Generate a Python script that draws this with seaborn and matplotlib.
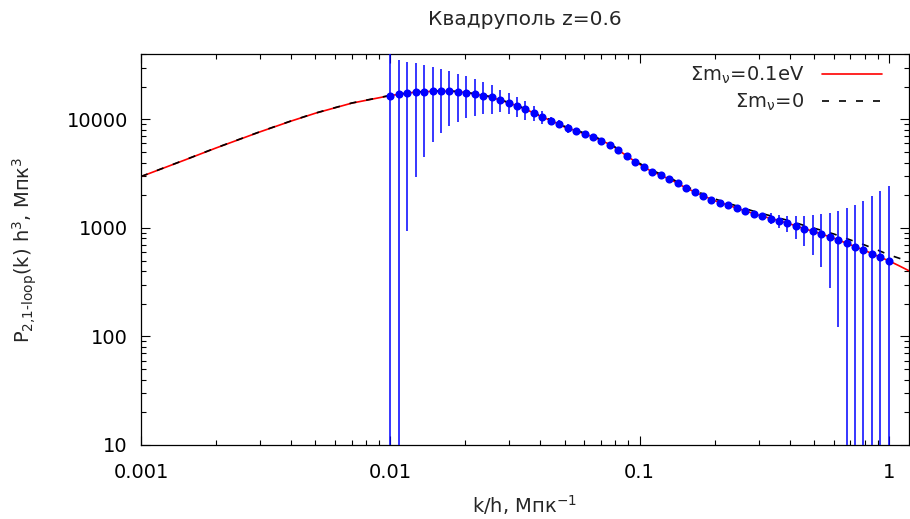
import numpy as np
import matplotlib
matplotlib.use("Agg")
import matplotlib.pyplot as plt
import seaborn as sns
from matplotlib.ticker import FixedLocator, FixedFormatter, LogLocator, NullFormatter

# ---------------- data ----------------
title_text = "Квадруполь z=0.6"
xlabel_text = "k/h, Мпк$^{-1}$"
ylabel_text = "P$_{2{,}1‐loop}$(k) h$^{3}$, Мпк$^{3}$"
legend_labels = ["Σm$_{ν}$=0.1eV", "Σm$_{ν}$=0"]

x_ticks = [0.001, 0.01, 0.1, 1]
x_tick_labels = ["0.001", "0.01", "0.1", "1"]
y_ticks = [10, 100, 1000, 10000]
y_tick_labels = ["10", "100", "1000", "10000"]

# theory curves
k_curve = [0.001, 0.0015, 0.002, 0.003, 0.004, 0.005, 0.007, 0.01, 0.0125, 0.015,
           0.0175, 0.02, 0.025, 0.03, 0.035, 0.04, 0.045, 0.05, 0.055, 0.06,
           0.065, 0.07, 0.075, 0.08, 0.09, 0.1, 0.11, 0.12, 0.135, 0.15,
           0.17, 0.2, 0.23, 0.26, 0.3, 0.35, 0.4, 0.45, 0.5, 0.6,
           0.7, 0.8, 0.9, 1.0, 1.1, 1.2]
p_mnu01 = [2970, 4225, 5450, 7670, 9645, 11380, 14100, 16575, 17780, 18150,
           18150, 17700, 16150, 14150, 12360, 10700, 9550, 8500, 7900, 7360,
           6900, 6400, 5950, 5450, 4500, 3850, 3380, 3090, 2740, 2400,
           2090, 1780, 1600, 1455, 1310, 1190, 1090, 995, 925, 805,
           700, 620, 550, 497, 447, 404]
p_mnu0 = [2975, 4235, 5465, 7690, 9670, 11410, 14140, 16630, 17850, 18230,
          18240, 17800, 16260, 14270, 12480, 10820, 9670, 8620, 8020, 7480,
          7020, 6520, 6070, 5530, 4580, 3930, 3460, 3170, 2820, 2480,
          2165, 1850, 1670, 1525, 1380, 1260, 1160, 1065, 995, 880,
          775, 695, 625, 565, 525, 490]

# measured points
k_points = [0.01000, 0.01081, 0.01169, 0.01264, 0.01366, 0.01477, 0.01597, 0.01726, 0.01866, 0.02018,
            0.02181, 0.02358, 0.02550, 0.02757, 0.02980, 0.03224, 0.03483, 0.03766, 0.04072, 0.04402,
            0.04759, 0.05145, 0.05562, 0.06014, 0.06502, 0.07029, 0.07599, 0.08216, 0.08882, 0.09603,
            0.10398, 0.11242, 0.12153, 0.13139, 0.14205, 0.15357, 0.16602, 0.17950, 0.19406, 0.20980,
            0.22682, 0.24521, 0.26510, 0.28661, 0.30986, 0.33499, 0.36216, 0.39154, 0.42330, 0.45764,
            0.49476, 0.53489, 0.57828, 0.62519, 0.67590, 0.73073, 0.79000, 0.85408, 0.92336, 1.00000]
p_points = [16575, 17075, 17440, 17815, 17930, 18200, 18200, 18200, 17930, 17660,
            17180, 16575, 16020, 15220, 14220, 13320, 12415, 11480, 10480, 9750,
            9090, 8295, 7834, 7352, 6898, 6377, 5857, 5268, 4608, 4085,
            3649, 3304, 3060, 2811, 2582, 2322, 2133, 1972, 1823, 1711,
            1619, 1529, 1435, 1355, 1285, 1218, 1160, 1105, 1043, 985,
            932, 886, 826, 780, 727, 672, 627, 580, 537, 497]
sigma_points = [26000, 18500, 16500, 14900, 13420, 12050, 10750, 9550, 8380, 7380,
                6350, 5460, 4700, 3600, 3100, 2700, 2500, 1900, 1430, 800,
                770, 830, 550, 470, 260, 220, 190, 160, 140, 120,
                100, 90, 85, 75, 70, 62, 57, 52, 48, 46,
                44, 44, 45, 60, 100, 140, 160, 187, 245, 300,
                370, 453, 548, 658, 793, 957, 1146, 1379, 1656, 1957]

# ---------------- style ----------------
sns.set_style("ticks")
plt.rcParams["font.family"] = ["DejaVu Sans"]
plt.rcParams["mathtext.default"] = "regular"
plt.rcParams["axes.linewidth"] = 0.9

W, H = 910, 519
fig = plt.figure(figsize=(W / 100, H / 100), dpi=100)
ax = fig.add_axes([141 / W, (H - 445) / H, (908.7 - 141) / W, (445 - 54) / H])
ax.set_xscale("log")
ax.set_yscale("log")

sns.lineplot(x=k_curve, y=p_mnu01, ax=ax, color="#ff0000", linewidth=1.2,
             sort=False, estimator=None, zorder=2)
sns.lineplot(x=k_curve, y=p_mnu0, ax=ax, color="black", linewidth=1.2,
             sort=False, estimator=None, zorder=2.5)
line_red, line_black = ax.lines[0], ax.lines[1]
line_black.set_linestyle((0, (4.2, 6.0)))

kp = np.array(k_points)
pp = np.array(p_points, dtype=float)
sp = np.array(sigma_points, dtype=float)
low = np.where(pp - sp > 1.0, sp, pp - 1.0)
ax.errorbar(kp, pp, yerr=[low, sp], fmt="none", ecolor="#0000ff",
            elinewidth=1.1, capsize=0, zorder=3)
sns.scatterplot(x=k_points, y=p_points, ax=ax, color="#0000ff", s=34,
                linewidth=0, zorder=4, legend=False)

ax.set_xlim(0.001, 1.2)
ax.set_ylim(10, 40000)

ax.xaxis.set_major_locator(FixedLocator(x_ticks))
ax.xaxis.set_major_formatter(FixedFormatter(x_tick_labels))
ax.yaxis.set_major_locator(FixedLocator(y_ticks))
ax.yaxis.set_major_formatter(FixedFormatter(y_tick_labels))
ax.xaxis.set_minor_locator(LogLocator(base=10, subs=np.arange(2, 10), numticks=20))
ax.yaxis.set_minor_locator(LogLocator(base=10, subs=np.arange(2, 10), numticks=20))
ax.xaxis.set_minor_formatter(NullFormatter())
ax.yaxis.set_minor_formatter(NullFormatter())

ax.tick_params(which="both", direction="in", top=True, right=True,
               colors="black", width=0.8, labelsize=14)
ax.tick_params(which="major", length=6.5)
ax.tick_params(which="minor", length=3.3)
ax.tick_params(axis="x", which="major", pad=13)
ax.tick_params(axis="y", which="major", pad=9.5)
for s in ax.spines.values():
    s.set_color("black")
    s.set_visible(True)

ax.set_xlabel(xlabel_text, fontsize=14)
ax.set_ylabel(ylabel_text, fontsize=14)
ax.xaxis.set_label_coords(0.5, -0.122)
ax.yaxis.set_label_coords(-0.133, 0.5)
ax.set_title(title_text, fontsize=14.5, pad=21)

ax.legend(handles=[line_red, line_black], labels=legend_labels,
          markerfirst=False, frameon=False, loc="upper right",
          bbox_to_anchor=(882 / W, 1 - 65 / H), bbox_transform=fig.transFigure,
          borderaxespad=0, borderpad=0, handlelength=3.1, handletextpad=0.9,
          labelspacing=0.3, fontsize=14)

fig.savefig("out.png", dpi=100)
